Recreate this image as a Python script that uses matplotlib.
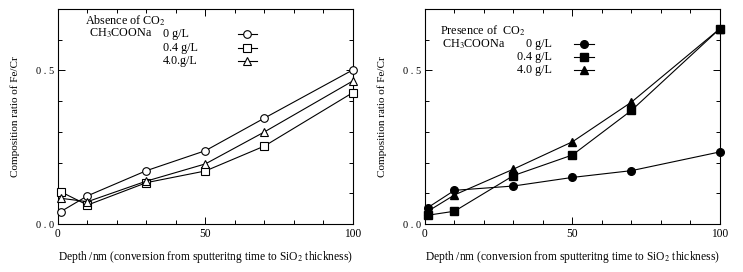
import matplotlib.pyplot as plt
import numpy as np
from matplotlib.ticker import MultipleLocator, FixedLocator, FixedFormatter

plt.rcParams['font.family'] = ['Liberation Serif', 'DejaVu Serif']
plt.rcParams['mathtext.fontset'] = 'stix'

depth = [1, 10, 30, 50, 70, 100]

# absence of CO2
abs_0 = [0.041, 0.092, 0.174, 0.239, 0.345, 0.502]
abs_04 = [0.105, 0.062, 0.135, 0.173, 0.254, 0.428]
abs_40 = [0.084, 0.073, 0.140, 0.196, 0.300, 0.466]

# presence of CO2
pre_0 = [0.054, 0.110, 0.124, 0.152, 0.174, 0.235]
pre_04 = [0.029, 0.042, 0.158, 0.225, 0.370, 0.636]
pre_40 = [0.042, 0.095, 0.179, 0.268, 0.397, 0.636]

conc_labels = ['0 g/L', '0.4 g/L', '4.0.g/L']
conc_labels2 = ['0 g/L', '0.4 g/L', '4.0 g/L']
markers = ['o', 's', '^']

fig = plt.figure(figsize=(7.43, 2.72), dpi=100)
ax1 = fig.add_axes([0.078, 0.176, 0.397, 0.791])
ax2 = fig.add_axes([0.572, 0.176, 0.397, 0.791])


def style(ax):
    ax.set_xlim(0, 100)
    ax.set_ylim(0, 0.7)
    ax.xaxis.set_major_locator(FixedLocator([0, 50, 100]))
    ax.xaxis.set_minor_locator(MultipleLocator(10))
    ax.yaxis.set_major_locator(FixedLocator([0, 0.5]))
    ax.yaxis.set_major_formatter(FixedFormatter(['0 . 0', '0 . 5']))
    ax.yaxis.set_minor_locator(MultipleLocator(0.1))
    ax.tick_params(which='both', direction='in', top=True, right=True,
                   width=0.7)
    ax.tick_params(axis='x', labelsize=8.3, pad=3)
    ax.tick_params(axis='y', labelsize=7.5, pad=3)
    ax.tick_params(which='major', length=5)
    ax.tick_params(which='minor', length=3)
    for s in ax.spines.values():
        s.set_linewidth(0.8)
    ax.set_xlabel('Depth /nm (conversion from sputteritng time to SiO$_2$ thickness)',
                  fontsize=8.3, labelpad=6)
    ax.set_ylabel('Composition ratio of Fe/Cr', fontsize=8, labelpad=11)


style(ax1)
style(ax2)

# left panel
for vals, m in zip([abs_0, abs_04, abs_40], markers):
    ax1.plot(depth, vals, color='black', lw=0.8, marker=m, ms=5.5,
             mfc='white', mec='black', mew=0.8, clip_on=False, zorder=3)

fs = 8.7
ax1.text(0.09, 0.945, 'Absence of CO$_2$', transform=ax1.transAxes, fontsize=fs, va='center')
ax1.text(0.105, 0.885, 'CH$_3$COONa', transform=ax1.transAxes, fontsize=fs, va='center')
ys = [0.885, 0.82, 0.76]
for lab, y, m in zip(conc_labels, ys, markers):
    ax1.text(0.355, y, lab, transform=ax1.transAxes, fontsize=fs, va='center')
    ax1.plot([0.61, 0.675], [y, y], color='black', lw=0.8, transform=ax1.transAxes)
    ax1.plot([0.642], [y], marker=m, ms=5.5, mfc='white', mec='black', mew=0.8,
             color='black', transform=ax1.transAxes)

# right panel
for vals, m in zip([pre_0, pre_04, pre_40], markers):
    ax2.plot(depth, vals, color='black', lw=0.8, marker=m, ms=5.5,
             mfc='black', mec='black', clip_on=False, zorder=3)

ax2.text(0.05, 0.9, 'Presence of  CO$_2$', transform=ax2.transAxes, fontsize=fs, va='center')
ax2.text(0.056, 0.835, 'CH$_3$COONa', transform=ax2.transAxes, fontsize=fs, va='center')
ys2 = [0.835, 0.775, 0.715]
for lab, y, m in zip(conc_labels2, ys2, markers):
    ax2.text(0.43, y, lab, transform=ax2.transAxes, fontsize=fs, va='center', ha='right')
    ax2.plot([0.505, 0.572], [y, y], color='black', lw=0.8, transform=ax2.transAxes)
    ax2.plot([0.538], [y], marker=m, ms=5.5, mfc='black', mec='black',
             color='black', transform=ax2.transAxes)

fig.savefig('out.png', dpi=100)
